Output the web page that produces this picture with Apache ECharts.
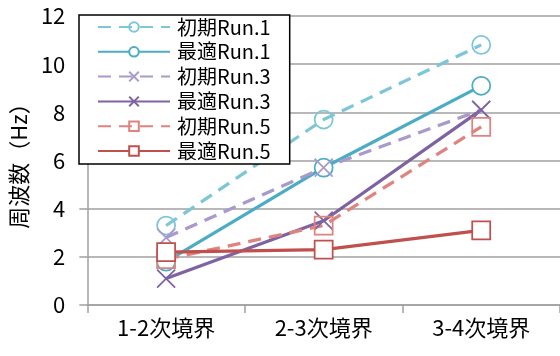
<!DOCTYPE html>
<html>
<head>
<meta charset="utf-8">
<script src="https://cdn.jsdelivr.net/npm/echarts@6/dist/echarts.min.js"></script>
<style>
  html, body { margin: 0; padding: 0; background: #fff; }
  #chart { width: 560px; height: 356px; }
</style>
</head>
<body>
<div id="chart"></div>
<script>
// Boundary frequencies per transition, initial vs optimized runs
const categories = ['1-2次境界', '2-3次境界', '3-4次境界'];
const yTicks = { min: 0, max: 12, step: 2 };

const initRun1 = [3.3, 7.7, 10.8];
const optRun1  = [1.8, 5.7, 9.1];
const initRun3 = [2.8, 5.7, 8.1];
const optRun3  = [1.1, 3.5, 8.1];
const initRun5 = [1.9, 3.3, 7.4];
const optRun5  = [2.2, 2.3, 3.1];

const seriesNames = ['初期Run.1', '最適Run.1', '初期Run.3', '最適Run.3', '初期Run.5', '最適Run.5'];

const FONT = "'Noto Sans CJK JP', 'Noto Sans', sans-serif";
const GRID_GRAY = '#A0A0A0';
const CROSS = 'path://M0,0L10,10M10,0L0,10';

// initial runs: dashed line, hollow see-through markers
// optimized runs: solid line, white-filled markers
function makeSeries(name, data, color, symbol, initial) {
  return {
    name: name,
    type: 'line',
    data: data,
    symbol: symbol,
    symbolSize: 18,
    showAllSymbol: true,
    lineStyle: { color: color, width: 3.25, type: initial ? [13, 8] : 'solid' },
    itemStyle: {
      color: initial ? 'rgba(255,255,255,0)' : '#fff',
      borderColor: color,
      borderWidth: 1.75
    },
    emphasis: { disabled: true }
  };
}

const chart = echarts.init(document.getElementById('chart'), null, { renderer: 'canvas' });

chart.setOption({
  animation: false,
  backgroundColor: '#fff',
  grid: { left: 76, top: 16, width: 486, height: 289, containLabel: false },
  legend: {
    orient: 'vertical',
    left: 79,
    top: 15,
    padding: [2, 19, 3, 18],
    itemWidth: 72,
    itemHeight: 12,
    itemGap: 4.8,
    backgroundColor: '#fff',
    borderColor: '#000',
    borderWidth: 1.5,
    borderRadius: 0,
    textStyle: { fontFamily: FONT, fontSize: 20, color: '#000', lineHeight: 16, padding: [0, 0, 0, 2] },
    data: seriesNames
  },
  xAxis: {
    type: 'category',
    data: categories,
    boundaryGap: true,
    axisLine: { show: true, lineStyle: { color: GRID_GRAY, width: 1.5 } },
    axisTick: { show: true, length: 8, inside: false, lineStyle: { color: GRID_GRAY, width: 1.5 } },
    axisLabel: { fontFamily: FONT, fontSize: 22, color: '#000', margin: 12 },
    splitLine: { show: false }
  },
  yAxis: {
    type: 'value',
    min: yTicks.min,
    max: yTicks.max,
    interval: yTicks.step,
    name: '周波数（Hz）',
    nameLocation: 'middle',
    nameRotate: 90,
    nameGap: 42,
    nameTextStyle: { fontFamily: FONT, fontSize: 22, color: '#000' },
    axisLine: { show: true, lineStyle: { color: GRID_GRAY, width: 1.5 } },
    axisTick: { show: true, length: 8, inside: false, lineStyle: { color: GRID_GRAY, width: 1.5 } },
    axisLabel: { fontFamily: FONT, fontSize: 22, color: '#000', margin: 22 },
    splitLine: { show: true, lineStyle: { color: GRID_GRAY, width: 1.5 } }
  },
  series: [
    makeSeries(seriesNames[0], initRun1, '#7CC6D7', 'circle', true),
    makeSeries(seriesNames[1], optRun1,  '#4BACC6', 'circle', false),
    makeSeries(seriesNames[2], initRun3, '#A999CC', CROSS, true),
    makeSeries(seriesNames[3], optRun3,  '#7E62A1', CROSS, false),
    makeSeries(seriesNames[4], initRun5, '#E0837F', 'rect', true),
    makeSeries(seriesNames[5], optRun5,  '#C0504D', 'rect', false)
  ]
});
</script>
</body>
</html>
